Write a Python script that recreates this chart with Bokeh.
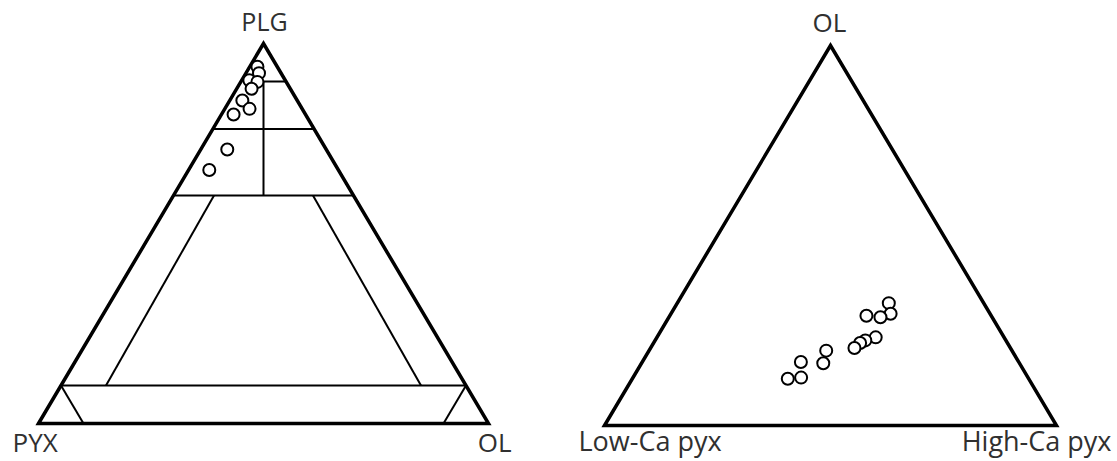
from bokeh.plotting import figure
from bokeh.layouts import row
from bokeh.models import Label, Range1d
from bokeh.embed import file_html
from bokeh.resources import INLINE

# ---------------- data (percent) ----------------
# Left ternary: PLG (apex) - PYX (left) - OL (right)
left_plg = [93.9, 92.2, 90.3, 89.9, 88.1, 85.0, 82.8, 81.3, 72.1, 66.7]
left_ol = [1.7, 2.9, 1.7, 3.7, 3.3, 2.8, 5.5, 2.7, 5.9, 4.6]

# Right ternary: OL (apex) - Low-Ca pyx (left) - High-Ca pyx (right)
right_ol = [32.2, 29.4, 28.5, 28.9, 23.2, 22.4, 21.7, 20.4, 19.7, 16.4, 16.7, 12.6, 12.3]
right_hcp = [46.8, 48.6, 46.8, 43.5, 48.4, 46.5, 45.7, 45.1, 39.2, 40.2, 35.1, 37.2, 34.4]

# classification boundaries of the left diagram: (apex%, right%) -> (apex%, right%)
left_bounds = [
    ((90, 5), (90, 10)),
    ((77.5, 0), (77.5, 22.5)),
    ((60, 0), (60, 40)),
    ((90, 5), (60, 20)),
    ((10, 0), (10, 90)),
    ((10, 0), (0, 10)),
    ((10, 90), (0, 90)),
    ((60, 9), (10, 10)),
    ((60, 31), (10, 80)),
]

left_labels = ["PLG", "PYX", "OL"]
right_labels = ["OL", "Low-Ca pyx", "High-Ca pyx"]

FONT = "Open Sans"
TCOL = "#303030"
BASE_SHIFT = 10  # renderer places the text ~10px lower than the anchor


def proj(apex, right):
    return [(r + a / 2.0) / 100.0 for a, r in zip(apex, right)], [a / 100.0 for a in apex]


def make_fig(sx, sy, ox, oy, fig_left, fig_w, fig_h):
    # sx, sy pixels per unit; ox, oy = page position of the left-bottom vertex
    x0 = (fig_left - ox) / sx
    x1 = (fig_left + fig_w - ox) / sx
    y0 = (oy - fig_h) / sy
    y1 = oy / sy
    p = figure(width=fig_w, height=fig_h, x_range=Range1d(x0, x1), y_range=Range1d(y0, y1),
               output_backend="svg", toolbar_location=None, min_border=0,
               x_axis_type=None, y_axis_type=None, outline_line_color=None,
               background_fill_color="white", border_fill_color="white")
    return p


def label(p, x, y, text, align, size):
    p.add_layout(Label(x=x, y=y, text=text, text_align=align, text_baseline="alphabetic",
                       text_font=FONT, text_font_size=size, text_color=TCOL))


H = 461
# ---------------- left figure ----------------
W1 = 558
sx1, sy1, ox1, oy1 = 450.0, 380.0, 38.0, 423.0
p1 = make_fig(sx1, sy1, ox1, oy1, 0, W1, H)

tx, ty = proj([0, 100, 0], [0, 0, 100])
p1.patch(tx, ty, fill_color=None, line_color="black", line_width=3.5, line_join="miter")

xs, ys = [], []
for (a0, r0), (a1, r1) in left_bounds:
    bx, by = proj([a0, a1], [r0, r1])
    xs.append(bx)
    ys.append(by)
p1.multi_line(xs, ys, line_color="black", line_width=2)

lx, ly = proj(left_plg, left_ol)
p1.scatter(lx, ly, marker="circle", size=12, fill_color="white", line_color="black", line_width=2)

label(p1, (264 - ox1) / sx1, (oy1 - 30 + BASE_SHIFT) / sy1, left_labels[0], "center", "25px")
label(p1, (12 - ox1) / sx1, (oy1 - 451 + BASE_SHIFT) / sy1, left_labels[1], "left", "26px")
label(p1, (511 - ox1) / sx1, (oy1 - 451 + BASE_SHIFT) / sy1, left_labels[2], "right", "26px")

# ---------------- right figure ----------------
W2 = 1117 - W1
sx2, sy2, ox2, oy2 = 452.0, 380.0, 604.0, 425.0
p2 = make_fig(sx2, sy2, ox2, oy2, W1, W2, H)

tx2, ty2 = proj([0, 100, 0], [0, 0, 100])
p2.patch(tx2, ty2, fill_color=None, line_color="black", line_width=3.5, line_join="miter")

rx, ry = proj(right_ol, right_hcp)
p2.scatter(rx, ry, marker="circle", size=12, fill_color="white", line_color="black", line_width=2)

label(p2, (829 - ox2) / sx2, (oy2 - 31 + BASE_SHIFT) / sy2, right_labels[0], "center", "26px")
label(p2, (578 - ox2) / sx2, (oy2 - 450 + BASE_SHIFT) / sy2, right_labels[1], "left", "27px")
label(p2, (1111 - ox2) / sx2, (oy2 - 450 + BASE_SHIFT) / sy2, right_labels[2], "right", "27px")

layout = row(p1, p2)
open("out.html", "w").write(file_html(layout, INLINE))
